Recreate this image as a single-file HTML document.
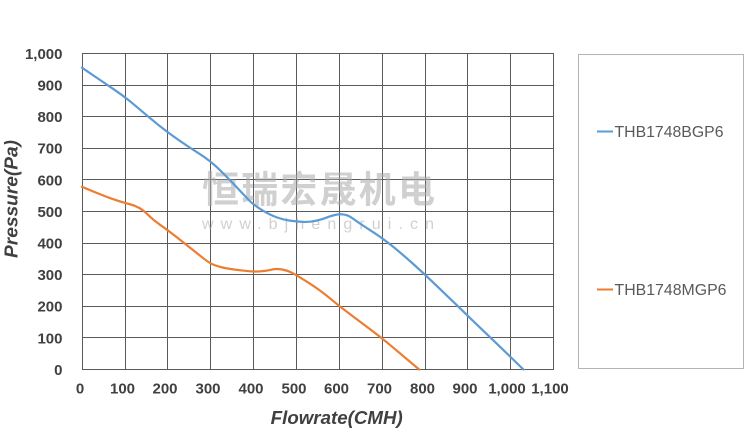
<!DOCTYPE html>
<html><head><meta charset="utf-8"><style>
html,body{margin:0;padding:0;background:#fff;}
svg{display:block;}
</style></head><body>
<svg width="750" height="442" viewBox="0 0 750 442" xmlns="http://www.w3.org/2000/svg">
<rect width="750" height="442" fill="#fff"/>
<g stroke="#5a5a5a" stroke-width="1" fill="none">
<line x1="82" y1="53.5" x2="554" y2="53.5"/>
<line x1="82" y1="85.5" x2="554" y2="85.5"/>
<line x1="82" y1="116.5" x2="554" y2="116.5"/>
<line x1="82" y1="148.5" x2="554" y2="148.5"/>
<line x1="82" y1="179.5" x2="554" y2="179.5"/>
<line x1="82" y1="211.5" x2="554" y2="211.5"/>
<line x1="82" y1="243.5" x2="554" y2="243.5"/>
<line x1="82" y1="274.5" x2="554" y2="274.5"/>
<line x1="82" y1="306.5" x2="554" y2="306.5"/>
<line x1="82" y1="337.5" x2="554" y2="337.5"/>
<line x1="82" y1="369.5" x2="554" y2="369.5"/>
<line x1="82.5" y1="53" x2="82.5" y2="370"/>
<line x1="125.5" y1="53" x2="125.5" y2="370"/>
<line x1="167.5" y1="53" x2="167.5" y2="370"/>
<line x1="210.5" y1="53" x2="210.5" y2="370"/>
<line x1="253.5" y1="53" x2="253.5" y2="370"/>
<line x1="296.5" y1="53" x2="296.5" y2="370"/>
<line x1="339.5" y1="53" x2="339.5" y2="370"/>
<line x1="382.5" y1="53" x2="382.5" y2="370"/>
<line x1="425.5" y1="53" x2="425.5" y2="370"/>
<line x1="467.5" y1="53" x2="467.5" y2="370"/>
<line x1="510.5" y1="53" x2="510.5" y2="370"/>
<line x1="553.5" y1="53" x2="553.5" y2="370"/>
</g>
<g fill="#aaaaaa" opacity="0.55">
<text x="202" y="202.5" font-family="'Noto Sans CJK SC','WenQuanYi Zen Hei',sans-serif" font-size="37" font-weight="bold" textLength="233" lengthAdjust="spacing">恒瑞宏晟机电</text>
<text x="202" y="229" font-family="'Liberation Sans',sans-serif" font-size="16" textLength="232" lengthAdjust="spacing">www.bjhengrui.cn</text>
</g>
<path fill="none" stroke="#5b9bd5" stroke-width="2.2" stroke-linejoin="round" stroke-linecap="round" d="M82.0,67.7 L92.7,75.0 Q103.4,82.3 114.15,89.55 Q124.9,96.8 135.6,105.95 Q146.3,115.1 157.0,123.8 Q167.7,132.5 178.4,139.9 Q189.1,147.3 199.85,154.1 Q210.6,160.9 220.2,170.4 Q229.8,179.9 236.25,186.7 Q242.7,193.5 248.05,199.2 Q253.4,204.9 261.75,209.95 Q270.1,215.0 276.75,217.35 Q283.4,219.7 289.85,220.65 Q296.3,221.6 302.7,221.9 Q309.1,222.2 315.55,220.8 Q322.0,219.4 326.25,217.7 Q330.5,216.0 334.8,215.0 Q339.1,214.0 342.05,214.3 Q345.0,214.6 347.4,215.4 Q349.8,216.2 355.15,220.15 Q360.5,224.1 371.25,230.9 Q382.0,237.7 392.7,246.4 Q403.4,255.1 414.1,264.75 Q424.8,274.4 435.5,284.65 Q446.2,294.9 456.95,305.35 Q467.7,315.8 478.4,326.05 Q489.1,336.3 499.8,346.6 Q510.5,356.9 523.4,369.5"/>
<path fill="none" stroke="#ed7d31" stroke-width="2.2" stroke-linejoin="round" stroke-linecap="round" d="M82,186.8 L92.7,191.25 Q103.4,195.7 111.75,198.7 Q120.1,201.7 129.95,204.25 Q139.8,206.8 146.45,213.4 Q153.1,220.0 160.4,225.05 Q167.7,230.1 177.15,237.55 Q186.6,245.0 192.15,249.4 Q197.7,253.8 203.7,258.55 Q209.7,263.3 214.6,265.15 Q219.5,267.0 224.65,268.0 Q229.8,269.0 241.6,270.45 Q253.4,271.9 259.85,271.4 Q266.3,270.9 271.4,269.65 Q276.5,268.4 282.1,269.5 Q287.7,270.6 292.0,272.8 Q296.3,275.0 308.05,282.45 Q319.8,289.9 329.45,297.95 Q339.1,306.0 349.8,314.05 Q360.5,322.1 371.25,330.15 Q382.0,338.2 392.7,347.2 Q403.4,356.2 419.2,369.5"/>
<g font-family="'Liberation Sans',sans-serif" font-size="15" font-weight="bold" fill="#404040" text-anchor="end">
<text x="62.5" y="58.9">1,000</text>
<text x="62.5" y="90.5">900</text>
<text x="62.5" y="122.1">800</text>
<text x="62.5" y="153.7">700</text>
<text x="62.5" y="185.3">600</text>
<text x="62.5" y="216.9">500</text>
<text x="62.5" y="248.5">400</text>
<text x="62.5" y="280.1">300</text>
<text x="62.5" y="311.7">200</text>
<text x="62.5" y="343.3">100</text>
<text x="62.5" y="374.9">0</text>
</g>
<g font-family="'Liberation Sans',sans-serif" font-size="15" font-weight="bold" fill="#404040" text-anchor="middle">
<text x="80" y="393.5">0</text>
<text x="122.5" y="393.5">100</text>
<text x="165" y="393.5">200</text>
<text x="208" y="393.5">300</text>
<text x="251" y="393.5">400</text>
<text x="294" y="393.5">500</text>
<text x="336.5" y="393.5">600</text>
<text x="379.5" y="393.5">700</text>
<text x="422.5" y="393.5">800</text>
<text x="465" y="393.5">900</text>
<text x="507" y="393.5">1,000</text>
<text x="550" y="393.5">1,100</text>
</g>
<text x="270.7" y="424" font-family="'Liberation Sans',sans-serif" font-size="18" font-weight="bold" font-style="italic" fill="#404040" textLength="132" lengthAdjust="spacingAndGlyphs">Flowrate(CMH)</text>
<text transform="translate(17.5,199) rotate(-90)" x="0" y="0" text-anchor="middle" font-family="'Liberation Sans',sans-serif" font-size="18" font-weight="bold" font-style="italic" fill="#404040" textLength="118" lengthAdjust="spacingAndGlyphs">Pressure(Pa)</text>
<rect x="578.5" y="54.5" width="165" height="314" fill="none" stroke="#b4b4b4" stroke-width="1"/>
<line x1="597" y1="131.5" x2="613" y2="131.5" stroke="#5b9bd5" stroke-width="2"/>
<text x="614.5" y="137" font-family="'Liberation Sans',sans-serif" font-size="15.5" fill="#595959" textLength="109" lengthAdjust="spacingAndGlyphs">THB1748BGP6</text>
<line x1="597" y1="289.5" x2="613" y2="289.5" stroke="#ed7d31" stroke-width="2"/>
<text x="614.5" y="295" font-family="'Liberation Sans',sans-serif" font-size="15.5" fill="#595959" textLength="112" lengthAdjust="spacingAndGlyphs">THB1748MGP6</text>
</svg>
</body></html>
